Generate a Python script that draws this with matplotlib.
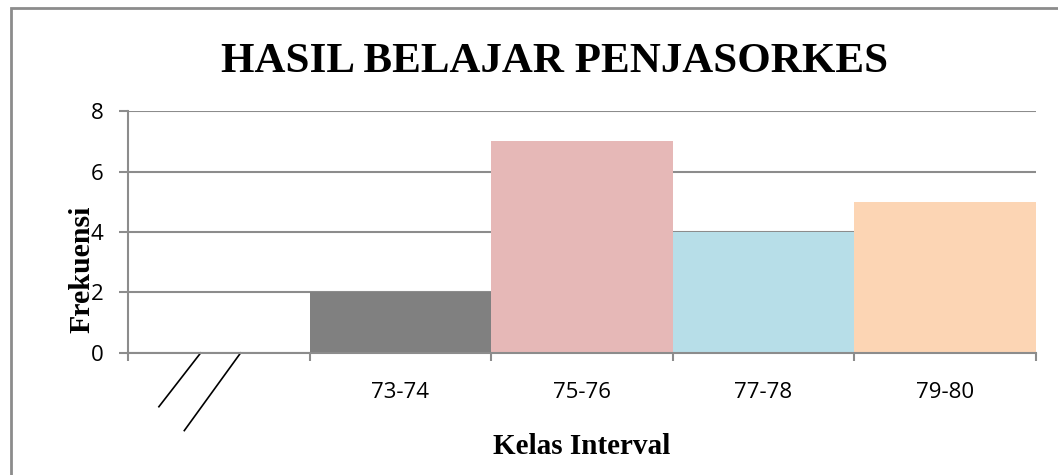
import matplotlib.pyplot as plt
import matplotlib.patches as mpatches
import numpy as np

# data
kelas = ["", "73-74", "75-76", "77-78", "79-80"]
frekuensi = [0, 2, 7, 4, 5]
warna = ["white", "#808080", "#E6B8B7", "#B7DEE8", "#FCD5B4"]
y_ticks = [0, 2, 4, 6, 8]

fig = plt.figure(figsize=(10.58, 4.75), dpi=100)
ax = fig.add_axes([0.121, 0.257, 0.858, 0.509])

pos = np.arange(len(kelas))
ax.bar(pos, frekuensi, width=1.0, align="edge", color=warna, zorder=3)

ax.set_xlim(0, len(kelas))
ax.set_ylim(0, 8)
ax.set_yticks(y_ticks)
ax.yaxis.grid(True, color="#8c8c8c", lw=1.5, zorder=0)

# ticks at class borders, labels in the middle
ax.set_xticks(np.arange(len(kelas) + 1))
ax.set_xticklabels([])
ax.set_xticks(pos + 0.5, minor=True)
ax.set_xticklabels(kelas, minor=True, fontsize=16, family="Open Sans")
ax.tick_params(axis="x", which="major", length=6, width=1.5, color="#8c8c8c")
ax.tick_params(axis="x", which="minor", length=0, pad=21)
ax.tick_params(axis="y", length=6.5, width=1.5, color="#8c8c8c", pad=11,
               labelsize=16)
for t in ax.get_yticklabels():
    t.set_family("Open Sans")

for side in ["top", "right"]:
    ax.spines[side].set_visible(False)
for side in ["left", "bottom"]:
    ax.spines[side].set_color("#8c8c8c")
    ax.spines[side].set_linewidth(1.5)
    ax.spines[side].set_zorder(4)

# axis break marks
ax.plot([0.4, 0.17], [0, -1.78], color="black", lw=1.2, clip_on=False)
ax.plot([0.62, 0.31], [0, -2.57], color="black", lw=1.2, clip_on=False)

fig.text(0.524, 0.869, "HASIL BELAJAR PENJASORKES", ha="center", va="center",
         fontsize=31, fontweight="bold", family="Liberation Serif")
fig.text(0.55, 0.061, "Kelas Interval", ha="center", va="center",
         fontsize=21, fontweight="bold", family="Liberation Serif")
fig.text(0.077, 0.434, "Frekuensi", ha="center", va="center", rotation=90,
         fontsize=21.5, fontweight="bold", family="Liberation Serif")

# chart frame
frame = mpatches.Rectangle((11 / 1058, -0.2), 1.2, 0.2 + 1 - 8 / 475,
                           transform=fig.transFigure, fill=False,
                           edgecolor="#8c8c8c", lw=2)
fig.patches.append(frame)

fig.savefig("out.png", dpi=100)
